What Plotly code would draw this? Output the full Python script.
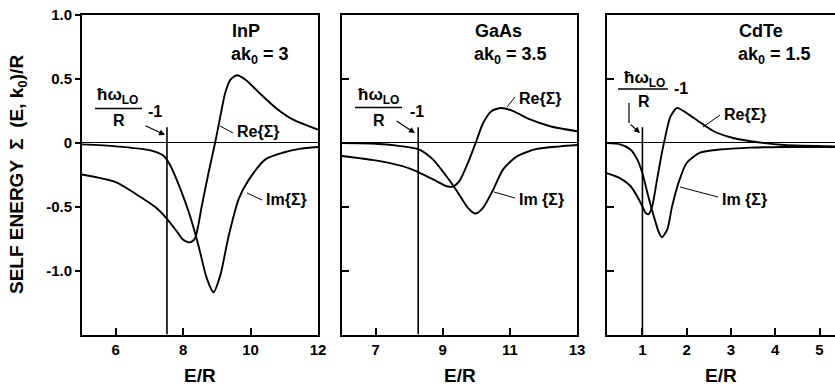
import plotly.graph_objects as go

# ---------------- data ----------------
inp_im_x = [5, 6, 7, 7.4, 7.6, 7.9, 8.2, 8.45, 8.7, 8.9, 9.1, 9.35, 9.65, 9.95, 10.45, 10.95, 11.45, 12]
inp_im_y = [-0.015, -0.03, -0.06, -0.1, -0.17, -0.35, -0.57, -0.8, -1.06, -1.17, -1.04, -0.73, -0.44, -0.29, -0.13, -0.08, -0.05, -0.035]
inp_re_x = [5, 6, 6.7, 7.2, 7.5, 7.8, 8.0, 8.2, 8.35, 8.55, 8.75, 8.95, 9.1, 9.25, 9.4, 9.6, 9.85, 10.25, 10.75, 11.25, 12]
inp_re_y = [-0.25, -0.31, -0.42, -0.51, -0.59, -0.69, -0.76, -0.78, -0.75, -0.5, -0.24, 0.0, 0.2, 0.39, 0.49, 0.525, 0.49, 0.39, 0.27, 0.18, 0.10]

gaas_im_x = [6, 7, 7.8, 8.3, 8.7, 9.1, 9.45, 9.75, 9.97, 10.2, 10.5, 10.8, 11.2, 11.8, 12.5, 13]
gaas_im_y = [-0.005, -0.01, -0.03, -0.055, -0.13, -0.26, -0.39, -0.51, -0.555, -0.51, -0.37, -0.21, -0.11, -0.05, -0.03, -0.02]
gaas_re_x = [6, 7, 7.8, 8.3, 8.8, 9.1, 9.3, 9.5, 9.75, 10.0, 10.2, 10.45, 10.75, 11.1, 11.6, 12.2, 13]
gaas_re_y = [-0.105, -0.14, -0.185, -0.235, -0.3, -0.34, -0.345, -0.3, -0.16, 0.01, 0.15, 0.245, 0.27, 0.245, 0.18, 0.127, 0.088]

cdte_im_x = [0.2, 0.5, 0.73, 0.88, 1.0, 1.11, 1.26, 1.37, 1.44, 1.56, 1.67, 1.82, 2.0, 2.3, 2.75, 3.45, 4.2, 5.36]
cdte_im_y = [-0.005, -0.015, -0.055, -0.13, -0.24, -0.39, -0.58, -0.70, -0.74, -0.68, -0.5, -0.31, -0.16, -0.08, -0.055, -0.04, -0.035, -0.035]
cdte_re_x = [0.2, 0.5, 0.73, 0.88, 1.0, 1.07, 1.14, 1.22, 1.33, 1.44, 1.52, 1.63, 1.78, 1.93, 2.25, 2.6, 3.05, 3.65, 4.2, 5.36]
cdte_re_y = [-0.24, -0.28, -0.34, -0.42, -0.5, -0.55, -0.56, -0.5, -0.29, -0.08, 0.05, 0.2, 0.27, 0.245, 0.17, 0.09, 0.035, 0.0, -0.02, -0.03]

materials = ["InP", "GaAs", "CdTe"]
ak0_values = ["3", "3.5", "1.5"]
thresholds = [7.52, 8.27, 1.0]      # ħω_LO/R - 1
threshold_top = 0.12
x_ranges = [[5, 12], [6, 13], [0.2, 5.35]]
x_ticks = [[6, 8, 10, 12], [7, 9, 11, 13], [1, 2, 3, 4, 5]]
y_ticks = [1.0, 0.5, 0, -0.5, -1.0]
y_ticklabels = ["1.0", "0.5", "0", "-0.5", "-1.0"]
y_range = [-1.5, 1.0]
im_labels = ["Im{Σ}", "Im {Σ}", "Im {Σ}"]

series = [
    (inp_re_x, inp_re_y, inp_im_x, inp_im_y),
    (gaas_re_x, gaas_re_y, gaas_im_x, gaas_im_y),
    (cdte_re_x, cdte_re_y, cdte_im_x, cdte_im_y),
]

# ---------------- layout helpers ----------------
W, H = 835, 386
FONT = "Liberation Sans, Arial, sans-serif"


def px(x):
    return x / W


def py(y):
    return 1 - y / H


x_domains = [[px(82), px(318)], [px(342), px(577)], [px(607), 1.0]]
y_domain = [py(334.5), py(14.5)]

fig = go.Figure()
shapes = []
annotations = []

for i in range(3):
    xa = "x" if i == 0 else f"x{i + 1}"
    ya = "y" if i == 0 else f"y{i + 1}"
    rex, rey, imx, imy = series[i]
    for xs, ys in ((rex, rey), (imx, imy)):
        fig.add_trace(go.Scatter(
            x=xs, y=ys, mode="lines", xaxis=xa, yaxis=ya,
            line=dict(color="black", width=1.9, shape="spline", smoothing=0.7),
            showlegend=False, hoverinfo="skip"))
    # threshold vertical line
    fig.add_trace(go.Scatter(
        x=[thresholds[i], thresholds[i]], y=[threshold_top, y_range[0]],
        mode="lines", xaxis=xa, yaxis=ya,
        line=dict(color="black", width=1.6), showlegend=False, hoverinfo="skip"))

    xkey = "xaxis" if i == 0 else f"xaxis{i + 1}"
    ykey = "yaxis" if i == 0 else f"yaxis{i + 1}"
    fig.update_layout(**{
        xkey: dict(
            domain=x_domains[i], range=x_ranges[i], anchor=ya, automargin=False,
            tickvals=x_ticks[i], ticktext=[str(t) for t in x_ticks[i]],
            ticks="inside", ticklen=7, tickwidth=1.5, tickcolor="black",
            showline=True, linewidth=2, linecolor="black", mirror=True,
            showgrid=False, zeroline=False,
            tickfont=dict(family=FONT, size=15, color="black", weight="bold"),
        ),
        ykey: dict(
            domain=y_domain, range=y_range, anchor=xa, automargin=False,
            tickvals=y_ticks, ticktext=y_ticklabels if i == 0 else None,
            showticklabels=(i == 0),
            ticks="outside" if i == 0 else "inside", ticklen=5 if i == 0 else 7,
            tickwidth=1.5, tickcolor="black",
            showline=True, linewidth=2, linecolor="black", mirror=(i < 2),
            showgrid=False, zeroline=True, zerolinecolor="black", zerolinewidth=1,
            tickfont=dict(family=FONT, size=15, color="black", weight="bold"),
        ),
    })
    # x-axis title "E/R"
    annotations.append(dict(
        text="E/R", x=(x_domains[i][0] + x_domains[i][1]) / 2, y=py(375),
        xref="paper", yref="paper", showarrow=False, xanchor="center", yanchor="middle",
        font=dict(family=FONT, size=19, color="black", weight="bold")))

# y-axis title
annotations.append(dict(
    text="SELF ENERGY  Σ  (E, k<sub>0</sub>)/R", x=px(18), y=py(175), xref="paper", yref="paper",
    textangle=-90, showarrow=False, xanchor="center", yanchor="middle",
    font=dict(family=FONT, size=19, color="black", weight="bold")))

# panel titles
title_left = [230, 473, 737]
for i in range(3):
    annotations.append(dict(
        text=materials[i], x=px(title_left[i]), y=py(31), xref="paper", yref="paper",
        showarrow=False, xanchor="left", yanchor="middle",
        font=dict(family=FONT, size=18, color="black", weight="bold")))
    annotations.append(dict(
        text=f"ak<sub>0</sub> = {ak0_values[i]}", x=px(title_left[i] - 1), y=py(55),
        xref="paper", yref="paper", showarrow=False, xanchor="left", yanchor="middle",
        font=dict(family=FONT, size=18, color="black", weight="bold")))

# threshold fraction labels: (num center, line x0,x1,y, R center, -1 center)
fractions = [
    ((118, 96), (95, 142, 108.5), (119, 120), (155, 111)),
    ((378, 96), (355, 402, 107.5), (379, 120), (417, 111)),
    ((644, 79), (618, 668, 89), (644, 101), (681, 89)),
]
for (nc, ln, rc, mc) in fractions:
    annotations.append(dict(text="ħω<sub>LO</sub>", x=px(nc[0]), y=py(nc[1]), xref="paper", yref="paper",
                            showarrow=False, xanchor="center", yanchor="middle",
                            font=dict(family=FONT, size=17, color="black", weight="bold")))
    annotations.append(dict(text="R", x=px(rc[0]), y=py(rc[1]), xref="paper", yref="paper",
                            showarrow=False, xanchor="center", yanchor="middle",
                            font=dict(family=FONT, size=16, color="black", weight="bold")))
    annotations.append(dict(text="-1", x=px(mc[0]), y=py(mc[1]), xref="paper", yref="paper",
                            showarrow=False, xanchor="center", yanchor="middle",
                            font=dict(family=FONT, size=16, color="black", weight="bold")))
    shapes.append(dict(type="line", xref="paper", yref="paper",
                       x0=px(ln[0]), x1=px(ln[1]), y0=py(ln[2]), y1=py(ln[2]),
                       line=dict(color="black", width=1.3)))

# arrows to the threshold lines: (head, tail)
arrows = [((165, 135), (144, 125)), ((415, 133), (395, 120)), ((640, 133), (629, 123))]
for head, tail in arrows:
    annotations.append(dict(text="", x=px(head[0]), y=py(head[1]), xref="paper", yref="paper",
                            ax=tail[0] - head[0], ay=tail[1] - head[1],
                            showarrow=True, arrowhead=2, arrowsize=1, arrowwidth=1.2,
                            arrowcolor="black"))
# bent part of the CdTe arrow
shapes.append(dict(type="line", xref="paper", yref="paper",
                   x0=px(629), x1=px(629), y0=py(103), y1=py(123),
                   line=dict(color="black", width=1.2)))

# Re / Im labels with pointer lines
re_label_pos = [(235, 131), (517, 98), (722, 115)]
im_label_pos = [(264, 199), (517, 199), (720, 199)]
re_pointer = [((220, 126), (233, 133)), ((507, 107), (515, 97)), ((703, 127), (720, 115))]
im_pointer = [((247, 193), (262, 200)), ((494, 192), (515, 198)), ((680, 187), (718, 197))]
for i in range(3):
    annotations.append(dict(text="Re{Σ}", x=px(re_label_pos[i][0]), y=py(re_label_pos[i][1]),
                            xref="paper", yref="paper", showarrow=False,
                            xanchor="left", yanchor="middle",
                            font=dict(family=FONT, size=16, color="black", weight="bold")))
    annotations.append(dict(text=im_labels[i], x=px(im_label_pos[i][0]), y=py(im_label_pos[i][1]),
                            xref="paper", yref="paper", showarrow=False,
                            xanchor="left", yanchor="middle",
                            font=dict(family=FONT, size=16, color="black", weight="bold")))
    for (a, b) in (re_pointer[i], im_pointer[i]):
        shapes.append(dict(type="line", xref="paper", yref="paper",
                           x0=px(a[0]), y0=py(a[1]), x1=px(b[0]), y1=py(b[1]),
                           line=dict(color="black", width=1)))

fig.update_layout(
    width=W, height=H,
    margin=dict(l=0, r=0, t=0, b=0, autoexpand=False),
    paper_bgcolor="white", plot_bgcolor="white",
    shapes=shapes, annotations=annotations,
    font=dict(family=FONT, color="black"),
)

fig.write_html("out.html", config={"displayModeBar": False},
               post_script="document.body.style.margin='0';document.body.style.overflow='hidden';")
